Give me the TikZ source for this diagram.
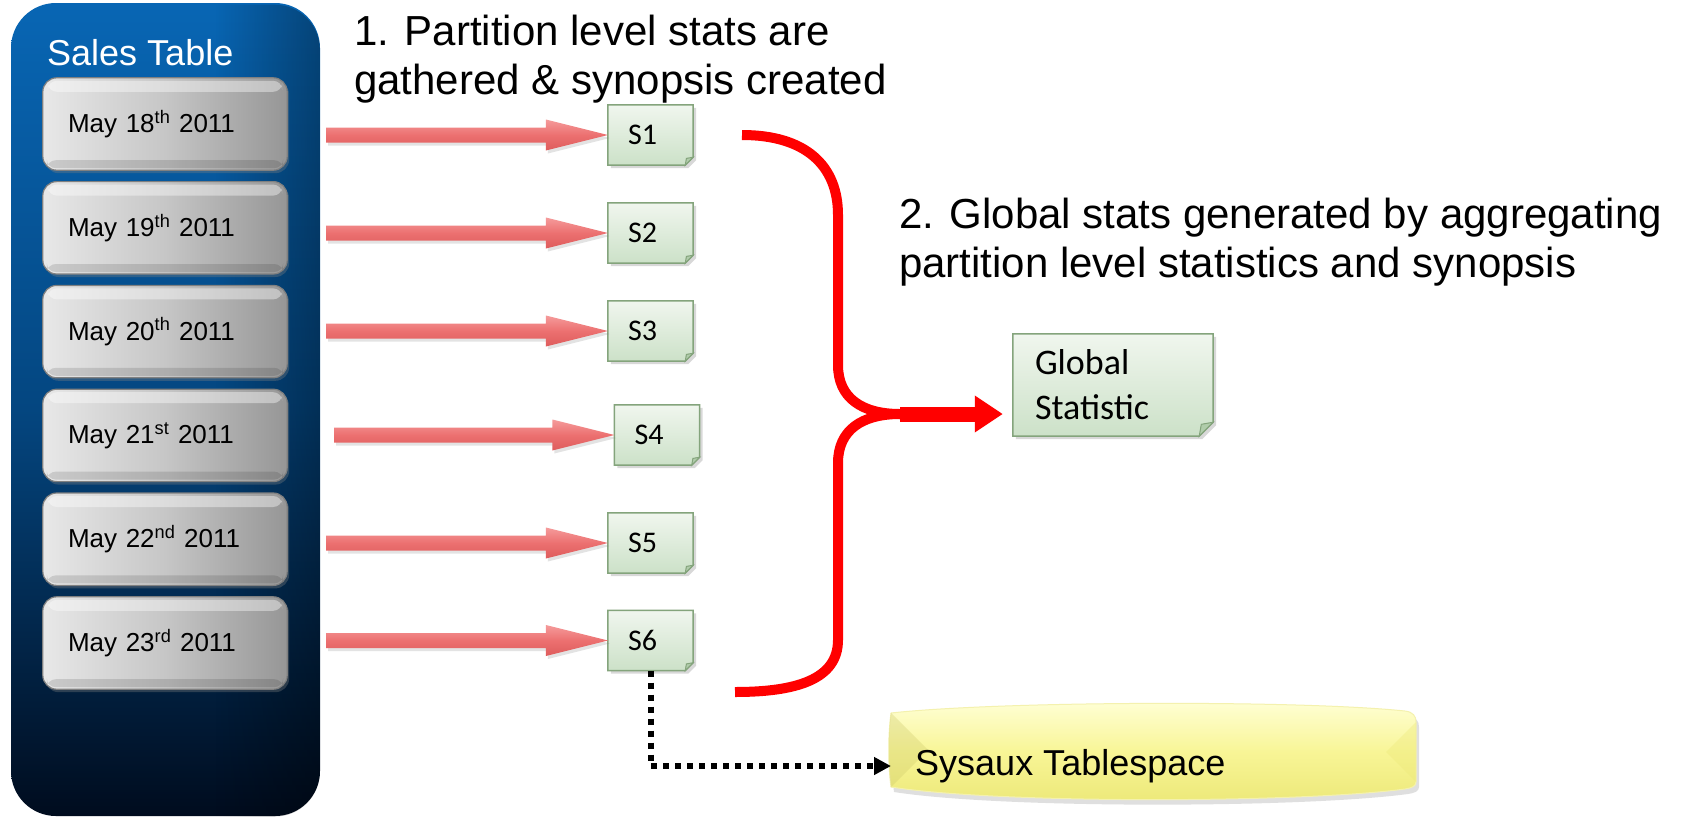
\documentclass[tikz,border=0pt]{standalone}
\usepackage{fontspec}
\setmainfont{Liberation Sans}
\newfontfamily\calibri{Carlito}
\usetikzlibrary{arrows.meta,calc,fadings,shadows}
\pgfdeclarelayer{back}
\pgfdeclarelayer{bg}
\pgfsetlayers{back,bg,main}

\definecolor{panelTop}{RGB}{8,102,180}
\definecolor{panelMid}{RGB}{4,70,128}
\definecolor{panelBot}{RGB}{0,12,30}
\definecolor{pinkTop}{RGB}{245,155,155}
\definecolor{pinkMid}{RGB}{236,112,112}
\definecolor{pinkBot}{RGB}{222,92,92}
\definecolor{noteTop}{RGB}{240,246,238}
\definecolor{noteBot}{RGB}{204,225,200}
\definecolor{noteEdge}{RGB}{132,164,124}
\definecolor{noteFold}{RGB}{176,204,170}
\definecolor{sysTop}{RGB}{255,255,214}
\definecolor{sysMid}{RGB}{248,245,150}
\definecolor{sysBot}{RGB}{236,232,120}
\definecolor{metalL}{RGB}{232,232,232}
\definecolor{metalM}{RGB}{198,198,198}
\definecolor{metalR}{RGB}{150,150,150}

% darkening towards the right edge of the panel (black = clear, white = opaque)
\pgfdeclarehorizontalshading{rightdarkshade}{100bp}{color(0bp)=(black); color(58bp)=(black);
  color(84bp)=(black!50); color(94bp)=(white!80!black); color(100bp)=(white)}
\pgfdeclarefading{darkright}{\pgfuseshading{rightdarkshade}}

\tikzset{
  datebox/.style={text width=194pt, inner xsep=25pt, minimum height=92pt, align=left,
    font=\fontsize{26}{30}\selectfont},
  note/.style={text width=45pt, inner xsep=20pt, minimum height=60pt, align=left,
    font=\calibri\fontsize{30}{36}\selectfont},
  gbox/.style={text width=156pt, inner xsep=22pt, minimum height=102pt, align=left,
    font=\calibri\fontsize{36}{45}\selectfont},
  title/.style={inner sep=0pt, align=left, anchor=north west, font=\fontsize{42}{49}\selectfont},
  redline/.style={draw=red, line width=10pt},
  redarrow/.style={draw=red, line width=15pt, -{Triangle[length=28pt,width=35pt]}, shorten >=10pt},
  dotline/.style={draw=black, line width=6pt, dash pattern=on 6pt off 6pt,
    -{Triangle[length=17pt,width=17pt]}},
}

% metallic partition box behind a date node
\newcommand\metalbox[1]{%
  \path[left color=metalL, right color=metalR, middle color=metalM, draw=black!50, line width=1.2pt,
    rounded corners=14pt, drop shadow={opacity=0.35, shadow xshift=2pt, shadow yshift=-3pt}]
    (#1.north west) rectangle (#1.south east);
  \fill[white, opacity=0.4, rounded corners=9pt]
    ($(#1.north west)+(5,3)$) rectangle ($(#1.north east)+(-5,14)$);
  \fill[black, opacity=0.12, rounded corners=9pt]
    ($(#1.south west)+(4,-10)$) rectangle ($(#1.south east)+(-4,-2)$);}

% sticky note with a folded corner behind a node
\newcommand\notebg[2]{%
  \path[top color=noteTop, bottom color=noteBot, draw=noteEdge, line width=1.5pt,
    drop shadow={opacity=0.3, shadow xshift=3pt, shadow yshift=-3pt}]
    (#1.north west) -- (#1.north east) -- ($(#1.south east)+(0,-#2)$)
    -- ($(#1.south east)+(-#2,0)$) -- (#1.south west) -- cycle;
  \path[fill=noteFold, draw=noteEdge, line width=1pt]
    ($(#1.south east)+(0,-#2)$) -- ($(#1.south east)+(-#2,0)$)
    -- ($(#1.south east)+(-0.85*#2,-0.85*#2)$) -- cycle;}

% broad pink block arrow from a start point to a node
\newcommand\pinkarrow[2]{%
  \path[top color=pinkTop, bottom color=pinkBot, middle color=pinkMid,
    drop shadow={opacity=0.22, shadow xshift=2pt, shadow yshift=-3pt}]
    ($(#1|-#2.west)+(0,-7.5)$) -- ($(#2.west)+(-62,-7.5)$) -- ($(#2.west)+(-62,-15.5)$)
    -- (#2.west) -- ($(#2.west)+(-62,15.5)$) -- ($(#2.west)+(-62,7.5)$)
    -- ($(#1|-#2.west)+(0,7.5)$) -- cycle;}

\begin{document}
\begin{tikzpicture}[x=1pt,y=-1pt]
\useasboundingbox (0,0) rectangle (1688,817);

% ---- page and sales table panel ----
\begin{pgfonlayer}{back}
  \fill[white] (0,0) rectangle (1688,817);
  \path[top color=panelTop, bottom color=panelBot, middle color=panelMid, rounded corners=45pt]
    (11,3) rectangle (320,816);
  \fill[black, path fading=darkright, rounded corners=45pt] (11,3) rectangle (320,816);
\end{pgfonlayer}

\node[font=\fontsize{36}{40}\selectfont, text=white, anchor=base west, inner sep=0pt] (sales) at (47,65) {Sales Table};

\node[datebox] (d1) at (165,124)   {May 18\textsuperscript{th} 2011};
\node[datebox] (d2) at (165,227.8) {May 19\textsuperscript{th} 2011};
\node[datebox] (d3) at (165,331.6) {May 20\textsuperscript{th} 2011};
\node[datebox] (d4) at (165,435.4) {May 21\textsuperscript{st} 2011};
\node[datebox] (d5) at (165,539.2) {May 22\textsuperscript{nd} 2011};
\node[datebox] (d6) at (165,643)   {May 23\textsuperscript{rd} 2011};

% ---- partition synopses ----
\node[note] (s1) at (650.5,135) {S1};
\node[note] (s2) at (650.5,233) {S2};
\node[note] (s3) at (650.5,331) {S3};
\node[note] (s4) at (657,435)   {S4};
\node[note] (s5) at (650.5,543) {S5};
\node[note] (s6) at (650.5,640.5) {S6};

\coordinate (a1) at (326,135);
\coordinate (a2) at (326,233);
\coordinate (a3) at (326,331);
\coordinate (a4) at (334,435);
\coordinate (a5) at (326,543);
\coordinate (a6) at (326,640);

% ---- global statistic ----
\node[gbox] (glob) at (1113,385) {Global\\Statistic};

% ---- captions ----
\node[title] (t1) at (354,15) {1. Partition level stats are\\gathered \& synopsis created};
\node[title] (t2) at (899,198) {2. Global stats generated by aggregating\\partition level statistics and synopsis};

% ---- sysaux tablespace ----
\node[font=\fontsize{36}{40}\selectfont, anchor=west, inner xsep=24pt, inner ysep=0pt] (sys) at (891,766) {Sysaux Tablespace};

\begin{pgfonlayer}{bg}
  \metalbox{d1}\metalbox{d2}\metalbox{d3}\metalbox{d4}\metalbox{d5}\metalbox{d6}
  \notebg{s1}{8}\notebg{s2}{8}\notebg{s3}{8}\notebg{s4}{8}\notebg{s5}{8}\notebg{s6}{8}
  \notebg{glob}{14}
  \pinkarrow{a1}{s1}\pinkarrow{a2}{s2}\pinkarrow{a3}{s3}
  \pinkarrow{a4}{s4}\pinkarrow{a5}{s5}\pinkarrow{a6}{s6}
  % flat cylinder
  \path[top color=sysTop, bottom color=sysBot, middle color=sysMid, draw=sysBot!60!white, line width=1pt,
    drop shadow={opacity=0.25, shadow xshift=3pt, shadow yshift=-5pt}]
    (891,713) .. controls (1000,701) and (1300,700) .. (1405,711)
    .. controls (1413,712) and (1416,716) .. (1416,722) -- (1416,782)
    .. controls (1416,786) and (1412,788) .. (1405,789)
    .. controls (1300,803) and (1000,804) .. (891,787)
    .. controls (888,765) and (888,735) .. (891,713) -- cycle;
  \fill[sysBot!85!black, opacity=0.3] (891,713) -- (928,750) -- (891,787) .. controls (888,765) and (888,735) .. (891,713);
  \fill[sysBot, opacity=0.35] (1416,722) -- (1386,752) -- (1416,782) -- cycle;
\end{pgfonlayer}

% ---- aggregation brace ----
\coordinate (brtop) at (742,135);
\coordinate (brbot) at (735,692);
\coordinate (j) at (900,414);
\draw[redline] (brtop) .. controls (805,135) and (838,165) .. (838,215) -- (838,365)
  .. controls (838,398) and (862,414) .. (j);
\draw[redline] (j) .. controls (862,414) and (838,430) .. (838,463) -- (838,640)
  .. controls (838,680) and (795,692) .. (brbot);
\draw[redarrow] (j) -- (j -| glob.west);

% ---- synopsis storage ----
\draw[dotline] (s6.south) |- (sys.west);
\end{tikzpicture}
\end{document}
